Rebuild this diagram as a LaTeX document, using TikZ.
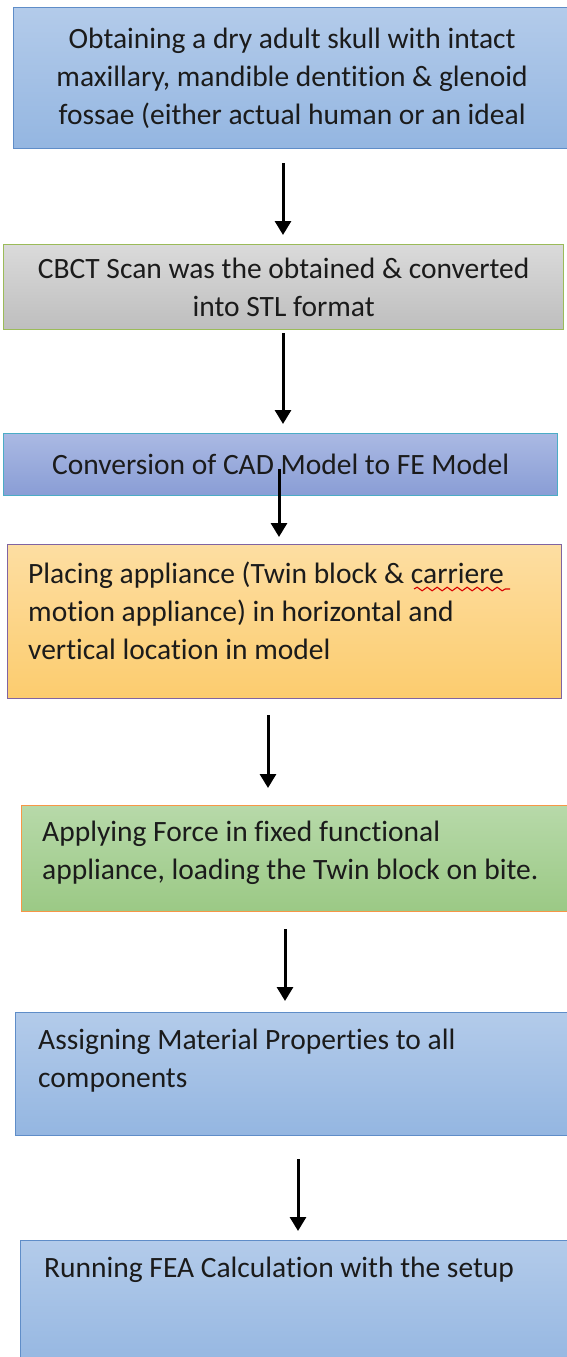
\documentclass[tikz,border=0pt]{standalone}
\usepackage{fontspec}
\setmainfont{Carlito}[Ligatures=CommonOff]
\usepackage{xcolor}
\usetikzlibrary{arrows.meta,positioning,decorations.pathmorphing}
\definecolor{SkyTop}{HTML}{B3CBEA}
\definecolor{SkyBot}{HTML}{94B6E1}
\definecolor{SkyEdge}{HTML}{5F8DC8}
\definecolor{GrayTop}{HTML}{DADADA}
\definecolor{GrayBot}{HTML}{BEBEBE}
\definecolor{OliveEdge}{HTML}{9BBB59}
\definecolor{LilacTop}{HTML}{AAB9E3}
\definecolor{LilacBot}{HTML}{899DD5}
\definecolor{TealEdge}{HTML}{4BACC6}
\definecolor{SandTop}{HTML}{FDDEA2}
\definecolor{SandBot}{HTML}{FCCC6E}
\definecolor{PlumEdge}{HTML}{8064A2}
\definecolor{MossTop}{HTML}{B7D9A9}
\definecolor{MossBot}{HTML}{9BC985}
\definecolor{OrangeEdge}{HTML}{F79646}
\definecolor{InkDark}{HTML}{1B1B1B}

\begin{document}
\begin{tikzpicture}[
		x=1pt,y=-1pt,
		box/.style={draw,line width=1.3pt,anchor=north west,inner sep=0pt},
		skybox/.style={box,draw=SkyEdge,top color=SkyTop,bottom color=SkyBot},
		txt/.style={inner sep=0pt,text=InkDark,font=\fontsize{29.5}{38}\selectfont},
		arr/.style={-{Triangle[width=16pt,length=14pt]},line width=3pt,black}
	]
	\useasboundingbox (0,0) rectangle (566,1357);
	% boxes
	\node[skybox,minimum width=557pt,minimum height=141pt] (b1) at (13,7) {};
	\node[box,draw=OliveEdge,top color=GrayTop,bottom color=GrayBot,minimum width=560pt,minimum height=85pt] (b2) at (3,244) {};
	\node[box,draw=TealEdge,top color=LilacTop,bottom color=LilacBot,minimum width=554pt,minimum height=62pt] (b3) at (3,433) {};
	\node[box,draw=PlumEdge,top color=SandTop,bottom color=SandBot,minimum width=554pt,minimum height=154pt] (b4) at (7,544) {};
	\node[box,draw=OrangeEdge,top color=MossTop,bottom color=MossBot,minimum width=549pt,minimum height=106pt] (b5) at (21,805) {};
	\node[skybox,minimum width=555pt,minimum height=123pt] (b6) at (15,1012) {};
	\node[skybox,minimum width=550pt,minimum height=130pt] (b7) at (20,1240) {};
	% texts
	\node[txt,align=center] (t1) at (b1.center) {Obtaining a dry adult skull with intact\\maxillary, mandible dentition \& glenoid\\fossae (either actual human or an ideal};
	\node[txt,align=center] (t2) at (b2.center) {CBCT Scan was the obtained \& converted\\into STL format};
	\node[txt,align=center] (t3) at (b3.center) {Conversion of CAD Model to FE Model};
	\node[txt,align=left,anchor=north west] (t4) at ([shift={(21,18)}]b4.north west) {Placing appliance (Twin block \& carriere\\motion appliance) in horizontal and\\vertical location in model};
	\node[txt,align=left,anchor=north west] (t5) at ([shift={(21,16)}]b5.north west) {Applying Force in fixed functional\\appliance, loading the Twin block on bite.};
	\node[txt,align=left,anchor=north west] (t6) at ([shift={(23,17)}]b6.north west) {Assigning Material Properties to all\\components};
	\node[txt,align=left,anchor=north west] (t7) at ([shift={(24,17)}]b7.north west) {Running FEA Calculation with the setup};
	% spell check mark
	\draw[red!85!black,line width=1.1pt,decorate,decoration={snake,amplitude=1.8pt,segment length=10pt}] (414,589) -- (510,589);
	% arrows
	\draw[arr,shorten <=14pt,shorten >=9pt] (b1.south -| 283,0) -- (b2.north -| 283,0);
	\draw[arr,shorten <=3pt,shorten >=9pt] (b2.south -| 283,0) -- (b3.north -| 283,0);
	\draw[arr,shorten <=-27pt,shorten >=7pt] (b3.south -| 279,0) -- (b4.north -| 279,0);
	\draw[arr,shorten <=16pt,shorten >=17pt] (b4.south -| 268,0) -- (b5.north -| 268,0);
	\draw[arr,shorten <=17pt,shorten >=11pt] (b5.south -| 285,0) -- (b6.north -| 285,0);
	\draw[arr,shorten <=23pt,shorten >=9pt] (b6.south -| 298,0) -- (b7.north -| 298,0);
\end{tikzpicture}
\end{document}
